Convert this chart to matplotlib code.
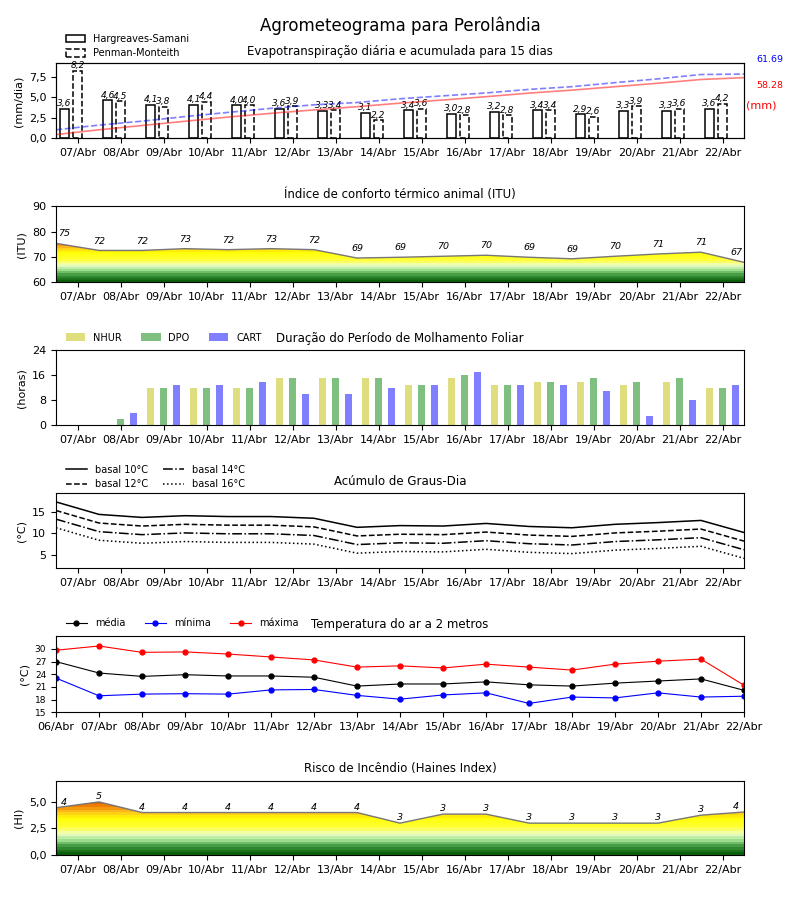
import matplotlib
matplotlib.use('Agg')
import matplotlib.pyplot as plt
import numpy as np
from matplotlib.colors import LinearSegmentedColormap
from matplotlib.patches import Polygon
from matplotlib.ticker import FuncFormatter

# ---------------- data ----------------
days = ['06/Abr', '07/Abr', '08/Abr', '09/Abr', '10/Abr', '11/Abr', '12/Abr', '13/Abr',
        '14/Abr', '15/Abr', '16/Abr', '17/Abr', '18/Abr', '19/Abr', '20/Abr', '21/Abr', '22/Abr']
bar_days = days[1:]

et_hs = [3.6, 4.6, 4.1, 4.1, 4.0, 3.6, 3.3, 3.1, 3.4, 3.0, 3.2, 3.4, 2.9, 3.3, 3.3, 3.6]
et_pm = [8.2, 4.5, 3.8, 4.4, 4.0, 3.9, 3.4, 2.2, 3.6, 2.8, 2.8, 3.4, 2.6, 3.9, 3.6, 4.2]
cum_hs = [3.6, 8.2, 12.3, 16.4, 20.4, 24.0, 27.3, 30.4, 33.8, 36.8, 40.0, 43.4, 46.3, 49.6, 52.9, 56.5, 58.28]
cum_pm = [8.2, 12.7, 16.5, 20.9, 24.9, 28.8, 32.2, 34.4, 38.0, 40.8, 43.6, 47.0, 49.6, 53.5, 57.1, 61.3, 61.69]
total_hs = '58.28'
total_pm = '61.69'

itu = [75.4, 72.6, 72.6, 73.3, 72.9, 73.3, 72.9, 69.6, 69.9, 70.3, 70.7, 69.9, 69.3, 70.3, 71.2, 71.9, 67.9]
itu_labels = ['75', '72', '72', '73', '72', '73', '72', '69', '69', '70', '70', '69', '69', '70', '71', '71', '67']

nhur = [0, 0, 12, 12, 12, 15, 15, 15, 13, 15, 13, 14, 14, 13, 14, 12]
dpo = [0, 2, 12, 12, 12, 15, 15, 15, 13, 16, 13, 14, 15, 14, 15, 12]
cart = [0, 4, 13, 13, 14, 10, 10, 12, 13, 17, 13, 13, 11, 3, 8, 13]

gd10 = [17.3, 14.4, 13.7, 14.1, 13.9, 13.9, 13.5, 11.4, 11.8, 11.7, 12.3, 11.6, 11.3, 12.1, 12.5, 13.0, 10.2]
gd12 = [15.3, 12.4, 11.7, 12.1, 11.9, 11.9, 11.5, 9.4, 9.8, 9.7, 10.3, 9.6, 9.3, 10.1, 10.5, 11.0, 8.2]
gd14 = [13.3, 10.4, 9.7, 10.1, 9.9, 9.9, 9.5, 7.4, 7.8, 7.7, 8.3, 7.6, 7.3, 8.1, 8.5, 9.0, 6.2]
gd16 = [11.3, 8.4, 7.7, 8.1, 7.9, 7.9, 7.5, 5.4, 5.8, 5.7, 6.3, 5.6, 5.3, 6.1, 6.5, 7.0, 4.2]

t_med = [27.0, 24.3, 23.5, 23.9, 23.6, 23.6, 23.3, 21.2, 21.7, 21.7, 22.2, 21.5, 21.2, 21.9, 22.4, 22.9, 20.2]
t_min = [23.1, 18.9, 19.3, 19.4, 19.3, 20.3, 20.4, 19.0, 18.1, 19.1, 19.6, 17.1, 18.6, 18.4, 19.6, 18.6, 18.8]
t_max = [29.7, 30.7, 29.2, 29.3, 28.8, 28.1, 27.4, 25.7, 26.0, 25.5, 26.4, 25.7, 25.0, 26.4, 27.1, 27.6, 21.4]

haines = [4.45, 5.0, 4.0, 4.0, 4.0, 4.0, 4.0, 4.0, 3.0, 3.85, 3.85, 3.0, 3.0, 3.0, 3.0, 3.75, 4.05]
haines_labels = ['4', '5', '4', '4', '4', '4', '4', '4', '3', '3', '3', '3', '3', '3', '3', '3', '4']

# ---------------- setup ----------------
x_pts = np.arange(len(days))
x_days = np.arange(len(bar_days))
tick_centers = x_days + 0.5

cmap = LinearSegmentedColormap.from_list('risk', [
    (0.0, '#0a5f0a'), (0.12, '#3c963c'), (0.22, '#a0e090'), (0.32, '#eeffc8'),
    (0.42, '#ffff40'), (0.58, '#ffff00'), (0.68, '#ffc020'), (0.78, '#f08000'),
    (0.88, '#d04000'), (1.0, '#b00000')], N=24)

comma1 = FuncFormatter(lambda v, p: f"{v:.1f}".replace('.', ','))

fig = plt.figure(figsize=(8, 9), dpi=100)
fig.suptitle('Agrometeograma para Perolândia', fontsize=12, y=0.982)

L, W = 0.07, 0.86
ax1 = fig.add_axes([L, 0.8463, W, 0.0833])
ax2 = fig.add_axes([L, 0.6863, W, 0.0844])
ax3 = fig.add_axes([L, 0.5274, W, 0.0833])
ax4 = fig.add_axes([L, 0.3686, W, 0.0833])
ax5 = fig.add_axes([L, 0.2086, W, 0.0844])
ax6 = fig.add_axes([L, 0.05, W, 0.0826])

TFS = 8.5
LFS = 7
LX = 0.007


def day_axis(ax):
    ax.set_xlim(0, len(bar_days))
    ax.set_xticks(tick_centers)
    ax.set_xticklabels(bar_days, fontsize=8)
    ax.tick_params(axis='y', labelsize=8)


def gradient_fill(ax, x, y, ymin, vmin, vmax):
    grad = np.linspace(vmin, vmax, 400).reshape(-1, 1)
    im = ax.imshow(grad, extent=[x[0], x[-1], vmin, vmax], origin='lower', aspect='auto',
                   cmap=cmap, vmin=vmin, vmax=vmax, interpolation='nearest', zorder=1)
    verts = [(x[0], ymin)] + list(zip(x, y)) + [(x[-1], ymin)]
    poly = Polygon(verts, closed=True, facecolor='none', edgecolor='none')
    ax.add_patch(poly)
    im.set_clip_path(poly)
    ax.plot(x, y, color='#777777', lw=1, zorder=2)


def point_labels(ax, x, y, labels, dy):
    n = len(x)
    for i, (xi, yi, s) in enumerate(zip(x, y, labels)):
        xo = xi
        if i == 0:
            xo = xi + 0.18
        elif i == n - 1:
            xo = xi - 0.18
        ax.annotate(s, (xo, yi), xytext=(0, dy), textcoords='offset points',
                    ha='center', va='bottom', fontsize=6.8, style='italic', zorder=3)


# ---------------- panel 1: ET ----------------
bw = 0.22
ax1.bar(x_days + 0.2, et_hs, width=bw, facecolor='white', edgecolor='black', lw=1.1,
        label='Hargreaves-Samani')
ax1.bar(x_days + 0.5, et_pm, width=bw, facecolor='white', edgecolor='black', lw=1.1,
        linestyle='--', label='Penman-Monteith')
for xi, v in zip(x_days + 0.2, et_hs):
    ax1.annotate(f"{v:.1f}".replace('.', ','), (xi, v), xytext=(0, 0.5), textcoords='offset points',
                 ha='center', va='bottom', fontsize=6.5, style='italic')
for xi, v in zip(x_days + 0.5, et_pm):
    ax1.annotate(f"{v:.1f}".replace('.', ','), (xi, v), xytext=(0, 0.5), textcoords='offset points',
                 ha='center', va='bottom', fontsize=6.5, style='italic')
ax1.set_ylim(0, 9.1)
ax1.set_yticks([0, 2.5, 5, 7.5])
ax1.yaxis.set_major_formatter(comma1)
day_axis(ax1)
ax1.set_ylabel('(mm/dia)', fontsize=8)
ax1.set_title('Evapotranspiração diária e acumulada para 15 dias', fontsize=TFS)
ax1.legend(loc='lower left', bbox_to_anchor=(LX, 1.0), frameon=False, fontsize=LFS,
           handlelength=2.0, handleheight=0.8, borderaxespad=0.1, labelspacing=0.45)
ax1b = ax1.twinx()
ax1b.plot(x_pts, cum_hs, color='red', alpha=0.5, lw=1.2)
ax1b.plot(x_pts, cum_pm, color='blue', alpha=0.5, lw=1.2, ls='--')
ax1b.set_ylim(0, 72)
ax1b.set_yticks([])
ax1b.set_xlim(0, len(bar_days))
fig.text(756 / 800, 1 - 60 / 900, total_pm, color='blue', fontsize=6.8, ha='left', va='center')
fig.text(756 / 800, 1 - 85.5 / 900, total_hs, color='red', fontsize=6.8, ha='left', va='center')
fig.text(746 / 800, 1 - 105 / 900, '(mm)', color='red', fontsize=8, ha='left', va='center')

# ---------------- panel 2: ITU ----------------
gradient_fill(ax2, x_pts, itu, 60, 60, 80)
point_labels(ax2, x_pts, itu, itu_labels, 3.5)
ax2.set_ylim(60, 90)
ax2.set_yticks([60, 70, 80, 90])
day_axis(ax2)
ax2.set_ylabel('(ITU)', fontsize=8)
ax2.set_title('Índice de conforto térmico animal (ITU)', fontsize=TFS)

# ---------------- panel 3: leaf wetness ----------------
bw3 = 0.16
ax3.bar(x_days + 0.19, nhur, width=bw3, color='y', alpha=0.5, label='NHUR')
ax3.bar(x_days + 0.5, dpo, width=bw3, color='g', alpha=0.5, label='DPO')
ax3.bar(x_days + 0.81, cart, width=bw3, color='b', alpha=0.5, label='CART')
ax3.set_ylim(0, 24)
ax3.set_yticks([0, 8, 16, 24])
day_axis(ax3)
ax3.set_ylabel('(horas)', fontsize=8)
ax3.set_title('Duração do Período de Molhamento Foliar', fontsize=TFS)
ax3.legend(loc='lower left', bbox_to_anchor=(LX, 1.04), frameon=False, fontsize=LFS, ncol=3,
           handlelength=2.0, handleheight=0.8, borderaxespad=0.1, columnspacing=2.0)

# ---------------- panel 4: degree days ----------------
ax4.plot(x_pts, gd10, color='black', lw=1.1, ls='-', label='basal 10°C')
ax4.plot(x_pts, gd12, color='black', lw=1.1, ls='--', label='basal 12°C')
ax4.plot(x_pts, gd14, color='black', lw=1.1, ls='-.', label='basal 14°C')
ax4.plot(x_pts, gd16, color='black', lw=1.1, ls=':', label='basal 16°C')
ax4.set_ylim(1.9, 19.3)
ax4.set_yticks([5, 10, 15])
day_axis(ax4)
ax4.set_ylabel('(°C)', fontsize=8)
ax4.set_title('Acúmulo de Graus-Dia', fontsize=TFS)
ax4.legend(loc='lower left', bbox_to_anchor=(LX, 0.99), frameon=False, fontsize=LFS, ncol=2,
           handlelength=2.2, borderaxespad=0.1, labelspacing=0.45, columnspacing=1.5)

# ---------------- panel 5: temperature ----------------
ax5.plot(x_pts, t_med, color='black', lw=0.8, marker='o', ms=3.5, label='média')
ax5.plot(x_pts, t_min, color='blue', lw=0.8, marker='o', ms=3.5, label='mínima')
ax5.plot(x_pts, t_max, color='red', lw=0.8, marker='o', ms=3.5, label='máxima')
ax5.set_xlim(0, 16)
ax5.set_xticks(x_pts)
ax5.set_xticklabels(days, fontsize=8)
ax5.set_ylim(15, 33)
ax5.set_yticks([15, 18, 21, 24, 27, 30])
ax5.tick_params(axis='y', labelsize=6.5)
ax5.set_ylabel('(°C)', fontsize=8)
ax5.set_title('Temperatura do ar a 2 metros', fontsize=TFS)
ax5.legend(loc='lower left', bbox_to_anchor=(LX, 1.04), frameon=False, fontsize=LFS, ncol=3,
           handlelength=2.2, borderaxespad=0.1, columnspacing=2.0)

# ---------------- panel 6: Haines ----------------
gradient_fill(ax6, x_pts, haines, 0, 0, 6)
point_labels(ax6, x_pts, haines, haines_labels, 0.5)
ax6.set_ylim(0, 7)
ax6.set_yticks([0, 2.5, 5])
ax6.yaxis.set_major_formatter(comma1)
day_axis(ax6)
ax6.set_ylabel('(HI)', fontsize=8)
ax6.set_title('Risco de Incêndio (Haines Index)', fontsize=TFS)

fig.savefig('out.png', dpi=100)
